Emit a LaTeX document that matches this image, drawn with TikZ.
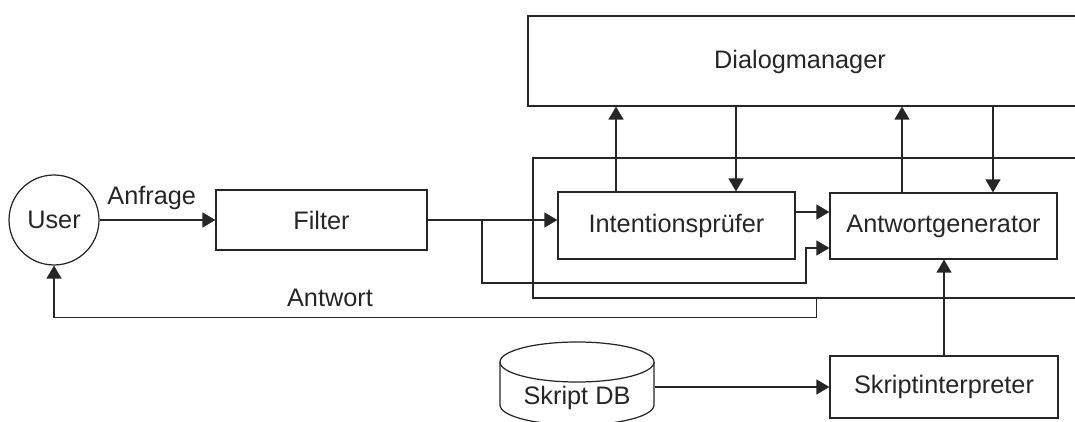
\documentclass[tikz,border=0pt]{standalone}
\usepackage{fontspec}
\setmainfont{Liberation Sans}
\usetikzlibrary{arrows.meta}

\begin{document}
\begin{tikzpicture}[x=0.02cm, y=-0.02cm, line width=0.7pt, color=black!85,
        font=\fontsize{14.4}{17}\selectfont,
        box/.style={draw, rectangle, inner sep=0pt},
        arr/.style={-{Triangle[length=0.26cm, width=0.3cm]}}]
        \useasboundingbox (0,0) rectangle (1075,422);

        % Draw the user and the filter
        \node[draw, circle, inner sep=0pt, minimum size=1.8cm] (user) at (54,220) {User};
        \node[box, minimum width=4.22cm, minimum height=1.2cm] (filter) at (321.5,220) {Filter};

        % Draw the dialog manager and the frame (cut off at the right)
        \node[box, minimum width=11.44cm, minimum height=1.8cm] (dm) at (814,61) {};
        \node (dmtext) at (800,62) {Dialogmanager};
        \node[box, minimum width=11.34cm, minimum height=2.8cm] (frame) at (816.5,228) {};

        % Draw the boxes inside the frame
        \node[box, minimum width=4.74cm, minimum height=1.34cm] (int) at (676.5,225.5) {Intentionsprüfer};
        \node[box, minimum width=4.54cm, minimum height=1.32cm] (ag) at (943.5,226) {Antwortgenerator};

        % Draw the script database and the interpreter
        \node[minimum width=3.08cm, minimum height=0.86cm] (db) at (577,383) {};
        \draw (500,362) -- (500,405) arc[start angle=180, end angle=0, x radius=77, y radius=20] -- (654,362);
        \draw (577,362) ellipse [x radius=77, y radius=20];
        \node (dbtext) at (577,398) {Skript DB};
        \node[box, minimum width=4.56cm, minimum height=1.24cm] (si) at (944,387) {Skriptinterpreter};

        % Draw the arrows
        \draw[arr] (user) -- (filter) node[pos=0.45, above=2pt] (anfrage) {Anfrage};
        \draw[arr] (filter.east) -- (filter.east -| int.west);
        \coordinate (split) at (482,220);
        \coordinate (bend) at (806,283);
        \draw[arr] (split) |- (bend) |- ([yshift=-0.44cm]ag.west);
        \draw[arr] ([yshift=0.27cm]int.east) -- ([yshift=0.27cm]int.east -| ag.west);

        \draw[arr] ([xshift=-1.21cm]int.north) -- ([xshift=-1.21cm]int.north |- dm.south);
        \draw[arr] ([xshift=1.19cm]int.north |- dm.south) -- ([xshift=1.19cm]int.north);
        \draw[arr] ([xshift=-0.83cm]ag.north) -- ([xshift=-0.83cm]ag.north |- dm.south);
        \draw[arr] ([xshift=0.99cm]ag.north |- dm.south) -- ([xshift=0.99cm]ag.north);

        \draw[arr] (si.north) -- (si.north |- ag.south);
        \draw[arr] (db.east |- si.west) -- (si.west);

        \draw[arr] (frame.south) -- ++(0,19) -| (user.south);
        \node (antwort) at (330,298) {Antwort};
    \end{tikzpicture}
\end{document}
